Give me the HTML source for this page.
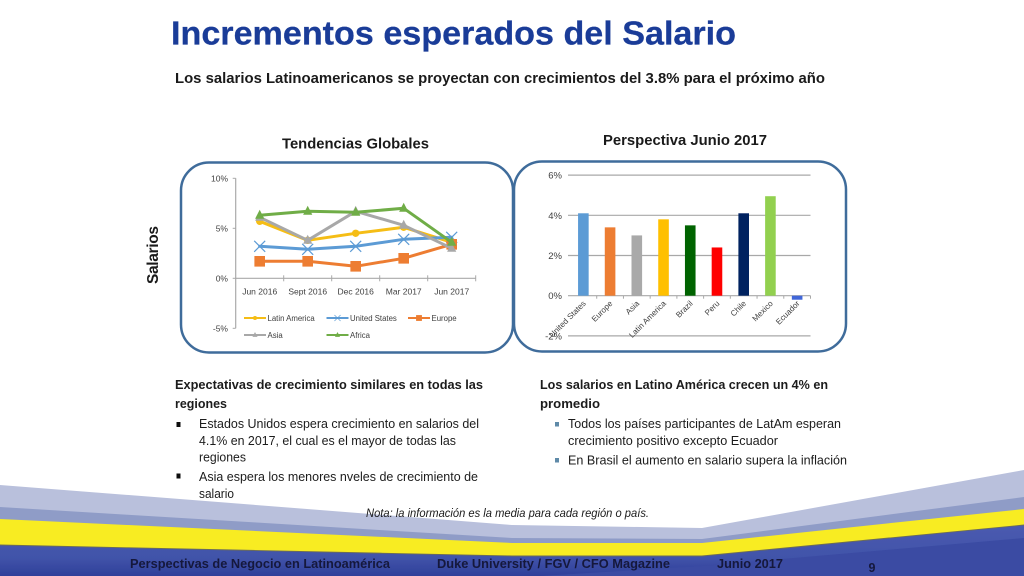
<!DOCTYPE html>
<html lang="es">
<head>
<meta charset="utf-8">
<title>Incrementos esperados del Salario</title>
<style>
html,body{margin:0;padding:0;background:#fff;}
#stage{display:block;width:1024px;height:576px;overflow:hidden;}
text{font-family:"Liberation Sans",sans-serif;}
.bold{font-weight:bold;}
.body{font-size:13px;fill:#1c1c1c;}
.tick{font-size:8.5px;fill:#404040;}
.legend-text{font-size:7.8px;fill:#404040;}
</style>
</head>
<body>
<svg id="stage" xmlns="http://www.w3.org/2000/svg" width="1024" height="576" viewBox="0 0 1024 576">
  <defs>
    <linearGradient id="blueGrad" x1="0" y1="0" x2="0" y2="1">
      <stop offset="0" stop-color="#4a5bb0"/>
      <stop offset="0.65" stop-color="#4153a9"/>
      <stop offset="1" stop-color="#2f3f9a"/>
    </linearGradient>
    <filter id="soft" x="-5%" y="-5%" width="110%" height="110%"><feGaussianBlur stdDeviation="0.35"/></filter>
    <filter id="softText" x="-5%" y="-5%" width="110%" height="110%"><feGaussianBlur stdDeviation="0.25"/></filter>
  </defs>
  <rect x="0" y="0" width="1024" height="576" fill="#ffffff"/>

  <g filter="url(#soft)">
    <polygon points="0,485 512,525 702,528 1024,470 1024,576 0,576" fill="#b9c0dc"/>
    <polygon points="0,507 512,538 702,539 1024,497 1024,576 0,576" fill="#8f9cc7"/>
    <polygon points="0,519 512,543 702,543 1024,509 1024,576 0,576" fill="#f8ec20"/>
    <polygon points="0,545 512,556 702,556 1024,525 1024,576 0,576" fill="url(#blueGrad)"/>
    <polygon points="540,576 702,566 1024,538 1024,576" fill="#3a4ba3"/>
    <polyline points="0,545 512,556 702,556 1024,525" fill="none" stroke="#6c6c58" stroke-width="0.9"/>
  </g>

  <text x="171" y="44.5" class="bold" font-size="33.5" fill="#1a3c98" stroke="#1a3c98" stroke-width="0.25" textLength="565" lengthAdjust="spacingAndGlyphs">Incrementos esperados del Salario</text>
  <text x="175" y="83" class="bold" font-size="14.5" fill="#1a1a1a" textLength="650" lengthAdjust="spacingAndGlyphs">Los salarios Latinoamericanos se proyectan con crecimientos del 3.8% para el próximo año</text>

  <text x="282" y="148.5" class="bold" font-size="15" fill="#1a1a1a" textLength="147" lengthAdjust="spacingAndGlyphs">Tendencias Globales</text>
  <text x="603" y="145" class="bold" font-size="14.5" fill="#1a1a1a" textLength="164" lengthAdjust="spacingAndGlyphs">Perspectiva Junio 2017</text>
  <text transform="translate(158,284) rotate(-90)" class="bold" font-size="15.5" fill="#1a1a1a" textLength="58" lengthAdjust="spacing">Salarios</text>

  <rect x="181" y="162.5" width="332" height="190" rx="28" ry="28" fill="#fff" stroke="#3f6c9b" stroke-width="2.5"/>
  <rect x="514" y="161.5" width="332" height="190" rx="28" ry="28" fill="#fff" stroke="#3f6c9b" stroke-width="2.5"/>

  <g id="lineChart" filter="url(#soft)"></g>
  <g id="barChart" filter="url(#soft)"></g>

  <g filter="url(#softText)">
    <text x="175" y="389" class="bold body" textLength="308" lengthAdjust="spacingAndGlyphs">Expectativas de crecimiento similares en todas las</text>
    <text x="175" y="408" class="bold body" textLength="52" lengthAdjust="spacingAndGlyphs">regiones</text>
    <rect x="176.5" y="422" width="4" height="5" fill="#111"/>
    <text x="199" y="428" class="body" textLength="280" lengthAdjust="spacingAndGlyphs">Estados Unidos espera crecimiento en salarios del</text>
    <text x="199" y="445" class="body" textLength="257" lengthAdjust="spacingAndGlyphs">4.1% en 2017, el cual es el mayor de todas las</text>
    <text x="199" y="461.5" class="body" textLength="47" lengthAdjust="spacingAndGlyphs">regiones</text>
    <rect x="176.5" y="473.5" width="4" height="5" fill="#111"/>
    <text x="199" y="481" class="body" textLength="279" lengthAdjust="spacingAndGlyphs">Asia espera los menores nveles de crecimiento de</text>
    <text x="199" y="498" class="body" textLength="35" lengthAdjust="spacingAndGlyphs">salario</text>
  </g>

  <g filter="url(#softText)">
    <text x="540" y="389" class="bold body" textLength="288" lengthAdjust="spacingAndGlyphs">Los salarios en Latino América crecen un 4% en</text>
    <text x="540" y="408" class="bold body" textLength="60" lengthAdjust="spacingAndGlyphs">promedio</text>
    <rect x="555" y="422" width="4" height="4.5" fill="#5f8aa8"/>
    <text x="568" y="428" class="body" textLength="273" lengthAdjust="spacingAndGlyphs">Todos los países participantes de LatAm esperan</text>
    <text x="568" y="445" class="body" textLength="210" lengthAdjust="spacingAndGlyphs">crecimiento positivo excepto Ecuador</text>
    <rect x="555" y="458" width="4" height="4.5" fill="#5f8aa8"/>
    <text x="568" y="464.5" class="body" textLength="279" lengthAdjust="spacingAndGlyphs">En Brasil el aumento en salario supera la inflación</text>
  </g>

  <text x="366" y="517" font-size="11.5" font-style="italic" fill="#1a1a1a" textLength="283" lengthAdjust="spacingAndGlyphs">Nota: la información es la media para cada región o país.</text>

  <g>
    <text x="130" y="568" class="bold" font-size="12.5" fill="#15183c" textLength="260" lengthAdjust="spacingAndGlyphs">Perspectivas de Negocio en Latinoamérica</text>
    <text x="437" y="568" class="bold" font-size="12.5" fill="#15183c" textLength="233" lengthAdjust="spacingAndGlyphs">Duke University / FGV / CFO Magazine</text>
    <text x="717" y="568" class="bold" font-size="12.5" fill="#15183c" textLength="66" lengthAdjust="spacingAndGlyphs">Junio 2017</text>
    <text x="868.5" y="572" class="bold" font-size="12.5" fill="#15183c">9</text>
  </g>
</svg>

<script>
var lineCategories = ['Jun 2016', 'Sept 2016', 'Dec 2016', 'Mar 2017', 'Jun 2017'];
var lineTicks = [-5, 0, 5, 10];
var latinAmerica = [5.7, 3.8, 4.5, 5.1, 3.6];
var unitedStates = [3.2, 2.9, 3.2, 3.9, 4.1];
var europe = [1.7, 1.7, 1.2, 2.0, 3.4];
var asia = [6.1, 3.8, 6.7, 5.3, 3.0];
var africa = [6.3, 6.7, 6.6, 7.0, 3.6];

var barCategories = ['United States', 'Europe', 'Asia', 'Latin America', 'Brazil', 'Peru', 'Chile', 'Mexico', 'Ecuador'];
var barValues = [4.1, 3.4, 3.0, 3.8, 3.5, 2.4, 4.1, 4.95, -0.2];
var barTicks = [-2, 0, 2, 4, 6];

var NS = 'http://www.w3.org/2000/svg';
function mk(parent, tag, props, txt) {
  var el = document.createElementNS(NS, tag);
  for (var k in props) { el.setAttribute(k, props[k]); }
  if (txt !== undefined) { el.textContent = txt; }
  parent.appendChild(el);
  return el;
}

/* ---------- line chart ---------- */
var lc = document.getElementById('lineChart');
function lineY(v) { return 278.3 - v * 10; }
var lineLeft = 235.7, lineRight = 475.7;
function lineX(i) { return lineLeft + (i + 0.5) * (lineRight - lineLeft) / lineCategories.length; }

var lyAxis = mk(lc, 'line', {x1: lineLeft, x2: lineLeft, y1: lineY(10), y2: lineY(-5), stroke: '#a9a9a9', 'stroke-width': 1.2});


var lxAxis = mk(lc, 'line', {x1: lineLeft, x2: lineRight, y1: lineY(0), y2: lineY(0), stroke: '#a9a9a9', 'stroke-width': 1.2});



lineTicks.forEach(function (t) {
  var y = lineY(t);
  var m = mk(lc, 'line', {x1: lineLeft - 3, x2: lineLeft, y1: y, y2: y, stroke: '#a9a9a9', 'stroke-width': 1});
  
  
  var l = mk(lc, 'text', {x: 228, y: y + 3, 'text-anchor': 'end', 'class': 'tick'}, t + '%');
  
  
});
lineCategories.forEach(function (c, i) {
  var tx = lineLeft + (i + 1) * (lineRight - lineLeft) / lineCategories.length;
  var m = mk(lc, 'line', {x1: tx, x2: tx, y1: lineY(0) - 3, y2: lineY(0) + 3, stroke: '#a9a9a9', 'stroke-width': 1});
  
  
  var l = mk(lc, 'text', {x: lineX(i), y: 294.5, 'text-anchor': 'middle', 'class': 'tick'}, c);
  
  
});

function marker(g, kind, x, y, color) {
  if (kind === 'circle') { return mk(g, 'circle', {cx: x, cy: y, r: 3.7, fill: color}); }
  if (kind === 'square') { return mk(g, 'rect', {x: x - 5.3, y: y - 5.3, width: 10.6, height: 10.6, fill: color}); }
  if (kind === 'triangle') { return mk(g, 'polygon', {points: x + ',' + (y - 5.5) + ' ' + (x + 4.6) + ',' + (y + 3.5) + ' ' + (x - 4.6) + ',' + (y + 3.5), fill: color}); }
  return mk(g, 'path', {d: 'M' + (x - 5.5) + ' ' + (y - 5.5) + 'L' + (x + 5.5) + ' ' + (y + 5.5) + 'M' + (x - 5.5) + ' ' + (y + 5.5) + 'L' + (x + 5.5) + ' ' + (y - 5.5), stroke: color, 'stroke-width': 1.2, fill: 'none'});
}

function drawSeries(values, color, kind) {
  var g = mk(lc, 'g', {});
  var pts = values.map(function (v, i) { return lineX(i) + ',' + lineY(v); }).join(' ');
  mk(g, 'polyline', {points: pts, fill: 'none', stroke: color, 'stroke-width': 3, 'stroke-linejoin': 'round', 'stroke-linecap': 'round'});
  values.forEach(function (v, i) { marker(g, kind, lineX(i), lineY(v), color); });
  return g;
}
var sLatam = drawSeries(latinAmerica, '#f5bd12', 'circle');


var sUs = drawSeries(unitedStates, '#5b9bd5', 'x');


var sEu = drawSeries(europe, '#ed7d31', 'square');


var sAsia = drawSeries(asia, '#a8a8a8', 'triangle');


var sAfrica = drawSeries(africa, '#70ad47', 'triangle');



function legendEntry(x, y, label, color, kind) {
  var g = mk(lc, 'g', {});
  mk(g, 'line', {x1: x, x2: x + 22, y1: y, y2: y, stroke: color, 'stroke-width': 2});
  var mg = mk(g, 'g', {transform: 'translate(' + (x + 11) + ',' + y + ') scale(0.55)'});
  marker(mg, kind, 0, 0, color);
  mk(g, 'text', {x: x + 23.5, y: y + 3, 'class': 'legend-text'}, label);
  return g;
}
var le1 = legendEntry(244, 318, 'Latin America', '#f5bd12', 'circle');


var le2 = legendEntry(326.5, 318, 'United States', '#5b9bd5', 'x');


var le3 = legendEntry(408, 318, 'Europe', '#ed7d31', 'square');


var le4 = legendEntry(244, 335, 'Asia', '#a8a8a8', 'triangle');


var le5 = legendEntry(326.5, 335, 'Africa', '#70ad47', 'triangle');



/* ---------- bar chart ---------- */
var bc = document.getElementById('barChart');
var barColors = ['#5b9bd5', '#ed7d31', '#a9a9a9', '#ffc000', '#006400', '#ff0000', '#002060', '#92d050', '#3f66d8'];
var barLeft = 570, barRight = 810.5;
function barY(v) { return 295.7 - v * 20.1; }
function barX(i) { return barLeft + (i + 0.5) * (barRight - barLeft) / barCategories.length; }

barTicks.forEach(function (t) {
  var y = barY(t);
  var g = mk(bc, 'line', {x1: barLeft - 2, x2: barRight, y1: y, y2: y, stroke: '#a8a8a8', 'stroke-width': 1.2});
  
  
});
barCategories.forEach(function (c, i) {
  var tx = barLeft + (i + 1) * (barRight - barLeft) / barCategories.length;
  var m = mk(bc, 'line', {x1: tx, x2: tx, y1: barY(0), y2: barY(0) + 3, stroke: '#a8a8a8', 'stroke-width': 1});
  
  
});
barValues.forEach(function (v, i) {
  var y0 = barY(0), y1 = barY(v);
  var r = mk(bc, 'rect', {x: barX(i) - 5.3, y: Math.min(y0, y1), width: 10.6, height: Math.abs(y1 - y0), fill: barColors[i]});
  
  
});
barTicks.forEach(function (t) {
  var l = mk(bc, 'text', {x: 562, y: barY(t) + 3.5, 'text-anchor': 'end', 'class': 'tick', style: 'font-size:9.5px'}, t + '%');
  
  
});
barCategories.forEach(function (c, i) {
  var ax = barX(i) + 3, ay = 304;
  var l = mk(bc, 'text', {transform: 'translate(' + ax + ',' + ay + ') rotate(-45)', 'text-anchor': 'end', 'class': 'tick', style: 'font-size:8px'}, c);
  
  
});
</script>
</body>
</html>
